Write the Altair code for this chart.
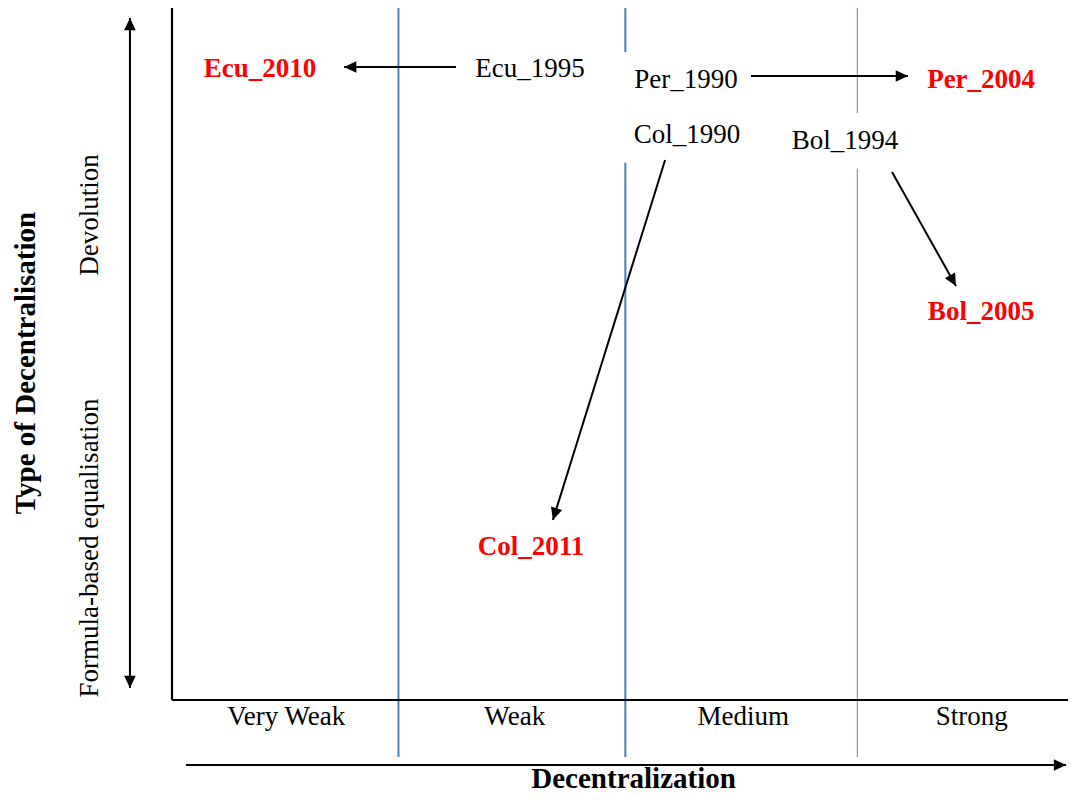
import math
import altair as alt
import pandas as pd

# ---- data ----
# x: decentralization level (0 = left axis, each category spans one unit)
# y: type-of-decentralisation score (0 = formula-based equalisation, 10 = devolution)
case_names = ["Ecu_1995", "Ecu_2010", "Per_1990", "Per_2004", "Col_1990", "Col_2011", "Bol_1994", "Bol_2005"]
case_level = [1.567, 0.385, 2.249, 3.541, 2.254, 1.571, 2.945, 3.541]
case_type = [9.12, 9.12, 8.96, 8.96, 8.165, 2.21, 8.08, 5.605]
case_period = ["before", "after", "before", "after", "before", "after", "before", "after"]

arrow_country = ["Ecu", "Per", "Col", "Bol"]
arrow_x_from = [1.243, 2.534, 2.158, 3.151]
arrow_y_from = [9.147, 9.017, 7.803, 7.630]
arrow_x_to = [0.753, 3.221, 1.667, 3.431]
arrow_y_to = [9.147, 9.017, 2.601, 5.983]

categories = ["Very Weak", "Weak", "Medium", "Strong"]
category_centers = [0.5, 1.5, 2.5, 3.5]
category_bounds = [0.991, 1.984, 2.999]

# ---- scales (diagram coordinate system) ----
PX_U = 228.5
PX_V = 69.2
X_DOM = [(8 - 172) / PX_U, (1068 - 172) / PX_U]
Y_DOM = [(700 - 796) / PX_V, (700 - 8) / PX_V]
xs = alt.Scale(domain=X_DOM, nice=False, zero=False)
ys = alt.Scale(domain=Y_DOM, nice=False, zero=False)
X = lambda f: alt.X(f, type="quantitative", scale=xs, axis=None)
Y = lambda f: alt.Y(f, type="quantitative", scale=ys, axis=None)
X2 = lambda f: alt.X2(f)
Y2 = lambda f: alt.Y2(f)

SERIF = "Liberation Serif"
TOP = Y_DOM[1]
LOW = (700 - 757) / PX_V

cases = pd.DataFrame({"name": case_names, "x": case_level, "y": case_type, "period": case_period})
boxes = cases[cases.period == "before"].copy()
boxes["x0"] = boxes.x - 0.28
boxes["x1"] = boxes.x + 0.28
boxes["y0"] = boxes.y - 0.40
boxes["y1"] = boxes.y + 0.40

arrows = pd.DataFrame({"c": arrow_country, "x": arrow_x_from, "y": arrow_y_from,
                       "x2": arrow_x_to, "y2": arrow_y_to})
# extra axis arrows (vertical double arrow and horizontal decentralization arrow)
axis_arrows = pd.DataFrame({
    "c": ["v_up", "v_down", "h"],
    "x": [-0.184, -0.184, 0.061],
    "y": [4.9, 4.9, -0.94],
    "x2": [-0.184, -0.184, 3.913],
    "y2": [9.855, 0.173, -0.94],
})
all_arrows = pd.concat([arrows, axis_arrows], ignore_index=True)
all_arrows["angle"] = [
    (math.degrees(math.atan2(-(r.y2 - r.y) * PX_V, (r.x2 - r.x) * PX_U)) + 360) % 360
    for r in all_arrows.itertuples()
]

base = alt.Chart(all_arrows)

# structural lines
lines_df = pd.DataFrame({
    "x": [0.0, 0.0] + category_bounds,
    "x2": [0.0, X_DOM[1]] + category_bounds,
    "y": [TOP, 0.0, TOP, TOP, TOP],
    "y2": [0.0, 0.0, LOW, LOW, LOW],
    "kind": ["axis", "axis", "blue", "blue", "thin"],
})
axis_lines = alt.Chart(lines_df[lines_df.kind == "axis"]).mark_rule(color="black", strokeWidth=2.2).encode(
    x=X("x"), x2=X2("x2"), y=Y("y"), y2=Y2("y2"))
blue_lines = alt.Chart(lines_df[lines_df.kind == "blue"]).mark_rule(color="#4a7ebb", strokeWidth=2).encode(
    x=X("x"), x2=X2("x2"), y=Y("y"), y2=Y2("y2"))
thin_lines = alt.Chart(lines_df[lines_df.kind == "thin"]).mark_rule(color="#5a86bf", strokeWidth=1).encode(
    x=X("x"), x2=X2("x2"), y=Y("y"), y2=Y2("y2"))

white_boxes = alt.Chart(boxes).mark_rect(color="white").encode(
    x=X("x0"), x2=X2("x1"), y=Y("y0"), y2=Y2("y1"))

arrow_shafts = base.mark_rule(color="black", strokeWidth=2).encode(
    x=X("x"), x2=X2("x2"), y=Y("y"), y2=Y2("y2"))
arrow_heads = base.mark_point(
    shape="M0,0 L-2,-0.95 L-2,0.95 Z", filled=True, color="black", opacity=1, size=150
).encode(x=X("x2"), y=Y("y2"), angle=alt.Angle("angle:Q", scale=None))

before_text = alt.Chart(cases[cases.period == "before"]).mark_text(
    font=SERIF, fontSize=27, baseline="middle", align="center", color="black").encode(
    x=X("x"), y=Y("y"), text="name:N")
after_text = alt.Chart(cases[cases.period == "after"]).mark_text(
    font=SERIF, fontSize=27, fontWeight="bold", baseline="middle", align="center", color="#ff0000").encode(
    x=X("x"), y=Y("y"), text="name:N")

cat_df = pd.DataFrame({"label": categories, "x": category_centers, "y": [-0.245] * 4})
cat_text = alt.Chart(cat_df).mark_text(font=SERIF, fontSize=27, baseline="middle", align="center").encode(
    x=X("x"), y=Y("y"), text="label:N")

vert_df = pd.DataFrame({"label": ["Devolution", "Formula-based equalisation"],
                        "x": [-0.359, -0.359], "y": [7.009, 2.197]})
vert_text = alt.Chart(vert_df).mark_text(font=SERIF, fontSize=27, baseline="middle", align="center", angle=270).encode(
    x=X("x"), y=Y("y"), text="label:N")

title_y_df = pd.DataFrame({"label": ["Type of Decentralisation"], "x": [-0.639], "y": [4.87]})
title_y = alt.Chart(title_y_df).mark_text(font=SERIF, fontSize=29, fontWeight="bold", baseline="middle",
                                          align="center", angle=270).encode(x=X("x"), y=Y("y"), text="label:N")
title_x_df = pd.DataFrame({"label": ["Decentralization"], "x": [2.02], "y": [-1.145]})
title_x = alt.Chart(title_x_df).mark_text(font=SERIF, fontSize=29, fontWeight="bold", baseline="middle",
                                          align="center").encode(x=X("x"), y=Y("y"), text="label:N")

chart = alt.layer(
    blue_lines, thin_lines, axis_lines, white_boxes, arrow_shafts, arrow_heads,
    before_text, after_text, cat_text, vert_text, title_y, title_x,
).properties(
    width=1060, height=788, padding=0,
    autosize=alt.AutoSizeParams(type="none"),
).configure_view(stroke=None)

chart.save("out.html", embed_options={"renderer": "svg", "actions": False})
